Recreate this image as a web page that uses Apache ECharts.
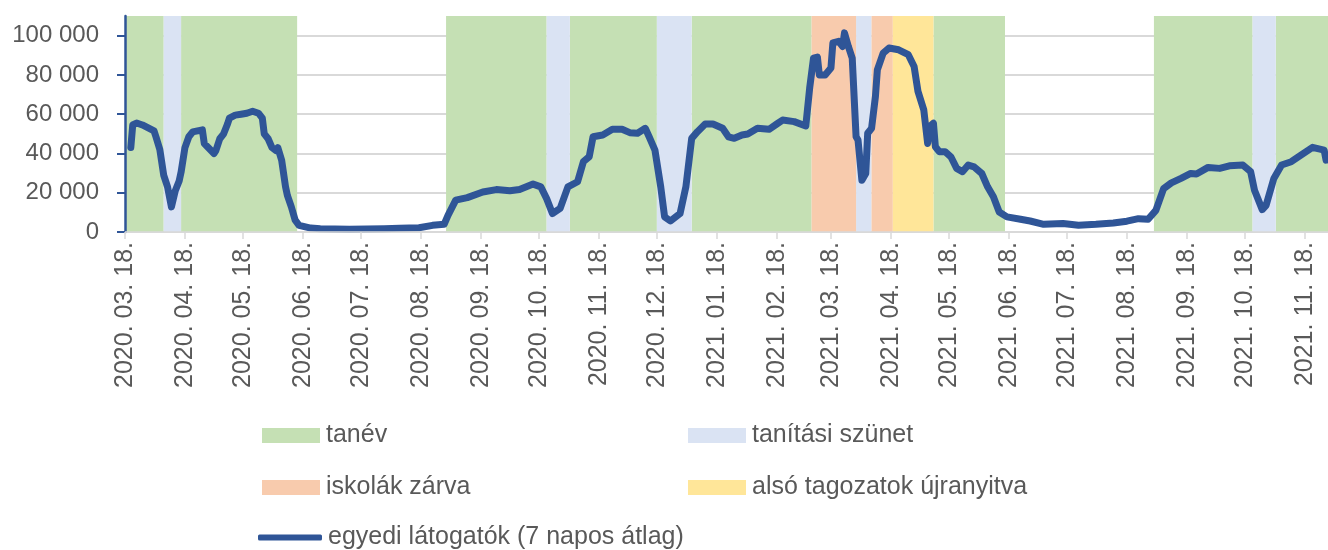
<!DOCTYPE html>
<html lang="hu">
<head>
    <meta charset="UTF-8">
    <script src="https://cdn.jsdelivr.net/npm/echarts@6/dist/echarts.min.js"></script>
    <title>Egyedi látogatók</title>
    <style>html, body { margin: 0; padding: 0; background: #fff; }</style>
</head>
<body>
<div id="chart_main" style="width: 1328px; height: 550px"></div>
<script>

    // 7 napos átlag
    var lineDates = [
        '2020-03-21','2020-03-22','2020-03-24','2020-03-27','2020-03-30','2020-04-02','2020-04-03','2020-04-05',
        '2020-04-07','2020-04-09','2020-04-11','2020-04-13','2020-04-15','2020-04-16','2020-04-18','2020-04-20',
        '2020-04-22','2020-04-27','2020-04-28','2020-04-30','2020-05-03','2020-05-04','2020-05-06','2020-05-08',
        '2020-05-10','2020-05-11','2020-05-14','2020-05-17','2020-05-20','2020-05-23','2020-05-26','2020-05-28',
        '2020-05-29','2020-05-31','2020-06-02','2020-06-04','2020-06-05','2020-06-07','2020-06-09','2020-06-10',
        '2020-06-12','2020-06-14','2020-06-16','2020-06-22','2020-06-27','2020-07-12','2020-07-30','2020-08-07',
        '2020-08-17','2020-08-24','2020-08-30','2020-09-01','2020-09-05','2020-09-11','2020-09-19','2020-09-26',
        '2020-10-03','2020-10-08','2020-10-15','2020-10-19','2020-10-22','2020-10-25','2020-10-29','2020-11-02',
        '2020-11-07','2020-11-10','2020-11-13','2020-11-15','2020-11-20','2020-11-25','2020-11-30','2020-12-04',
        '2020-12-08','2020-12-12','2020-12-14','2020-12-17','2020-12-20','2020-12-22','2020-12-25','2020-12-30',
        '2021-01-02','2021-01-05','2021-01-08','2021-01-12','2021-01-16','2021-01-21','2021-01-24','2021-01-27',
        '2021-01-31','2021-02-03','2021-02-08','2021-02-14','2021-02-18','2021-02-21','2021-02-27','2021-03-05',
        '2021-03-07','2021-03-09','2021-03-11','2021-03-12','2021-03-15','2021-03-18','2021-03-19','2021-03-22',
        '2021-03-24','2021-03-25','2021-03-27','2021-03-29','2021-03-31','2021-04-01','2021-04-03','2021-04-05',
        '2021-04-06','2021-04-08','2021-04-10','2021-04-11','2021-04-14','2021-04-17','2021-04-18','2021-04-22',
        '2021-04-27','2021-04-30','2021-05-02','2021-05-05','2021-05-07','2021-05-08','2021-05-10','2021-05-11',
        '2021-05-13','2021-05-16','2021-05-19','2021-05-22','2021-05-25','2021-05-28','2021-05-31','2021-06-04',
        '2021-06-07','2021-06-10','2021-06-13','2021-06-17','2021-06-24','2021-06-29','2021-07-06','2021-07-16',
        '2021-07-24','2021-08-02','2021-08-11','2021-08-18','2021-08-24','2021-08-29','2021-09-02','2021-09-06',
        '2021-09-10','2021-09-15','2021-09-20','2021-09-23','2021-09-29','2021-10-05','2021-10-10','2021-10-17',
        '2021-10-21','2021-10-23','2021-10-27','2021-10-29','2021-11-02','2021-11-06','2021-11-11','2021-11-16',
        '2021-11-22','2021-11-28','2021-11-29'
    ];
    var lineValues = [
        43000, 54500, 55500, 54500, 53000, 51500, 48500, 42000,
        29000, 23000, 12800, 21000, 26000, 30500, 43000, 48500,
        51000, 52000, 45000, 43000, 40000, 41500, 47500, 50000,
        55000, 58000, 59500, 60000, 60500, 61500, 60500, 58000,
        50000, 47500, 43000, 41500, 43000, 36500, 23000, 18500,
        12800, 6000, 3400, 2000, 1700, 1400, 1700, 1900,
        2200, 3400, 3900, 8500, 16200, 17500, 20400, 21600,
        21000, 21600, 24400, 23000, 17000, 9400, 12000, 23000,
        25600, 35800, 38300, 48500, 49400, 52300, 52300, 50600,
        50300, 52800, 48500, 41700, 23000, 7700, 5600, 9400,
        23000, 47700, 51100, 55000, 55000, 52800, 48500, 47700,
        49400, 49900, 52800, 52300, 55000, 57000, 56200, 54000,
        73300, 88600, 89100, 80000, 80000, 83500, 96300, 97100,
        94500, 101400, 94500, 88600, 48500, 46800, 26400, 29800,
        50300, 52800, 69000, 82600, 91100, 93700, 94200, 92800,
        90300, 84300, 71600, 62200, 45100, 53700, 55400, 43400,
        40900, 40900, 38300, 32400, 30700, 34100, 33200, 29800,
        23000, 17900, 10200, 7700, 6500, 5600, 3900, 4300,
        3400, 3900, 4600, 5500, 6800, 6500, 11000, 22100,
        25000, 27300, 29800, 29500, 32900, 32400, 33700, 34100,
        30700, 21300, 11400, 13600, 27300, 34100, 35800, 39200,
        43100, 41700, 36600
    ];

    // időszakok [kezdet, vég]
    var tanev = [
        ['2020-03-18', '2020-04-07'], ['2020-04-16', '2020-06-15'], ['2020-08-31', '2020-10-22'],
        ['2020-11-03', '2020-12-18'], ['2021-01-05', '2021-03-08'], ['2021-05-10', '2021-06-16'],
        ['2021-09-01', '2021-10-22'], ['2021-11-03', '2021-11-30']
    ];
    var szunet = [
        ['2020-04-07', '2020-04-16'], ['2020-10-22', '2020-11-03'], ['2020-12-18', '2021-01-05'],
        ['2021-03-31', '2021-04-08'], ['2021-10-22', '2021-11-03']
    ];
    var zarva = [['2021-03-08', '2021-03-31'], ['2021-04-08', '2021-04-19']];
    var ujranyitva = [['2021-04-19', '2021-05-10']];

    var tickDates = [
        '2020-03-18','2020-04-18','2020-05-18','2020-06-18','2020-07-18','2020-08-18','2020-09-18',
        '2020-10-18','2020-11-18','2020-12-18','2021-01-18','2021-02-18','2021-03-18','2021-04-18',
        '2021-05-18','2021-06-18','2021-07-18','2021-08-18','2021-09-18','2021-10-18','2021-11-18'
    ];
    var yTicks = [0, 20000, 40000, 60000, 80000, 100000];

    var bandNames = ['tanév', 'tanítási szünet', 'iskolák zárva', 'alsó tagozatok újranyitva'];
    var bandColors = ['#c5e0b4', '#dae3f3', '#f8cbad', '#ffe699'];
    var bandData = [tanev, szunet, zarva, ujranyitva];
    var lineName = 'egyedi látogatók (7 napos átlag)';

    var FONT = 'Liberation Sans';
    var TEXT = '#595959';
    var BLUE = '#2f5597';

    var Chart_Main = echarts.init(document.getElementById('chart_main'));

    function toTime(s) {
        var p = s.split('-');
        return new Date(+p[0], +p[1] - 1, +p[2]).getTime();
    }
    function pad(n) { return (n < 10 ? '0' : '') + n; }

    var series = [];
    for (var i in bandData) {
        var areas = [];
        for (var j in bandData[i]) {
            areas.push([{xAxis: toTime(bandData[i][j][0])}, {xAxis: toTime(bandData[i][j][1])}]);
        }
        series.push({
            name: bandNames[i],
            type: 'bar',
            data: [],
            z: 1,
            itemStyle: {color: bandColors[i]},
            markArea: {
                silent: true,
                itemStyle: {color: bandColors[i], opacity: 1},
                data: areas
            }
        });
    }
    var linePoints = [];
    for (var k in lineDates) {
        linePoints.push([toTime(lineDates[k]), lineValues[k]]);
    }
    series.push({
        name: lineName,
        type: 'line',
        data: linePoints,
        symbol: 'none',
        z: 5,
        lineStyle: {color: BLUE, width: 7, join: 'round', cap: 'round'},
        itemStyle: {color: BLUE}
    });

    // one legend per entry so each can sit where the original puts it
    function legendAt(name, icon, left, top, w, h) {
        return {
            data: [{name: name, icon: icon}],
            left: left,
            top: top,
            itemWidth: w,
            itemHeight: h,
            selectedMode: false,
            padding: 0,
            itemStyle: {borderWidth: 0},
            textStyle: {color: TEXT, fontFamily: FONT, fontSize: 25, padding: [0, 0, 0, 1]}
        };
    }

    var option = {
        animation: false,
        backgroundColor: '#fff',
        grid: {left: 125, right: 0, top: 16, bottom: 318, containLabel: false, outerBoundsMode: 'none'},
        legend: [
            legendAt(bandNames[0], 'rect', 262, 423, 58, 15),
            legendAt(bandNames[1], 'rect', 688, 423, 58, 15),
            legendAt(bandNames[2], 'rect', 262, 475, 58, 15),
            legendAt(bandNames[3], 'rect', 688, 475, 58, 15),
            legendAt(lineName, 'roundRect', 258, 525, 64, 6)
        ],
        xAxis: {
            type: 'value',
            min: toTime('2020-03-18'),
            max: toTime('2021-11-30'),
            z: 6,
            splitLine: {show: false},
            axisLine: {show: true, lineStyle: {color: '#d9d9d9', width: 1.5}},
            axisTick: {
                show: true, length: 7, lineStyle: {color: '#d9d9d9', width: 1.5},
                customValues: tickDates.map(toTime)
            },
            axisLabel: {
                rotate: 90,
                margin: 10,
                color: TEXT,
                fontFamily: FONT,
                fontSize: 25,
                customValues: tickDates.map(toTime),
                formatter: function (v) {
                    var d = new Date(v);
                    return d.getFullYear() + '. ' + pad(d.getMonth() + 1) + '. ' + pad(d.getDate()) + '.';
                }
            }
        },
        yAxis: [{
            type: 'value',
            min: 0,
            max: 110000,
            interval: 20000,
            z: 6,
            splitLine: {show: false},
            axisLine: {show: true, lineStyle: {color: BLUE, width: 2.5}},
            axisTick: {show: true, length: 8, lineStyle: {color: BLUE, width: 2}, customValues: yTicks},
            axisLabel: {
                margin: 26,
                color: TEXT,
                fontFamily: FONT,
                fontSize: 24,
                customValues: yTicks,
                formatter: function (v) {
                    return String(v).replace(/\B(?=(\d{3})+(?!\d))/g, ' ');
                }
            }
        }, {
            type: 'value',
            min: 0,
            max: 110000,
            interval: 20000,
            z: 0,
            axisLine: {show: false},
            axisTick: {show: false},
            axisLabel: {show: false},
            splitLine: {show: true, showMaxLine: false, lineStyle: {color: '#d9d9d9', width: 2}}
        }],
        series: series
    };

    Chart_Main.setOption(option);

</script>
</body>
</html>
